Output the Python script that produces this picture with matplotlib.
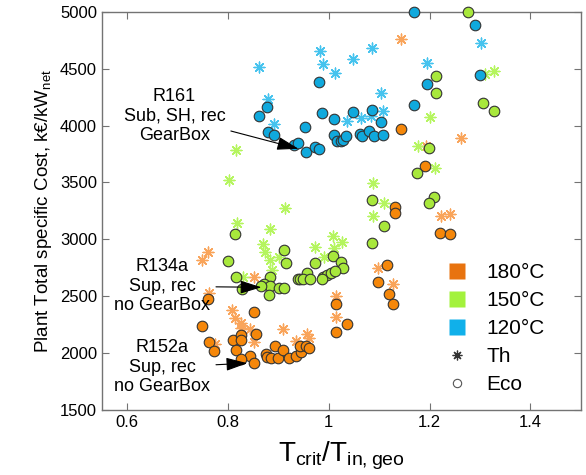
import numpy as np
import matplotlib
matplotlib.use('Agg')
from matplotlib import pyplot as plt
from matplotlib.lines import Line2D

plt.rcParams['font.family'] = ['Liberation Sans', 'DejaVu Sans']
plt.rcParams['mathtext.fontset'] = 'custom'
plt.rcParams['mathtext.rm'] = 'Liberation Sans'

# 120 C - Eco (circulos) y Th (asteriscos)
x120_eco = [0.861, 0.877, 0.879, 0.892, 0.981, 0.987, 0.953, 0.932, 0.939, 0.954, 0.972,
            0.981, 1.011, 1.011, 1.017, 1.024, 1.029, 1.035, 1.048, 1.062, 1.066, 1.080,
            1.086, 1.089, 1.103, 1.108, 1.170, 1.194, 1.169, 1.291, 1.301]
y120_eco = [4083, 4162, 3948, 3913, 4385, 4112, 3992, 3828, 3843, 3766, 3816,
            3795, 4054, 3916, 3863, 3869, 3872, 3910, 4124, 3925, 3907, 3954,
            4133, 3907, 4036, 3913, 4182, 4367, 5000, 4884, 4441]
x120_th = [0.862, 0.879, 0.892, 0.983, 0.988, 1.012, 1.049, 1.086, 1.194, 1.103, 1.108,
           1.037, 1.064, 1.084, 1.302]
y120_th = [4517, 4235, 4013, 4652, 4543, 4461, 4582, 4681, 4552, 4283, 4130,
           4042, 4065, 4086, 4723]

# 150 C
x150_eco = [1.276, 1.213, 1.212, 1.307, 1.327, 1.199, 1.175, 1.209, 1.199, 1.086, 1.109,
            1.086, 0.814, 0.800, 0.912, 0.916, 1.008, 1.024, 1.029, 0.973, 0.956, 0.938,
            0.943, 0.948, 0.963, 0.988, 0.997, 1.004, 1.012, 0.816, 0.884, 0.872, 0.884,
            0.865, 0.901, 0.912, 0.828, 0.882, 0.987]
y150_eco = [5000, 4435, 4285, 4197, 4127, 3804, 3579, 3373, 3320, 3344, 3118,
            2968, 3051, 2810, 2906, 2789, 2851, 2801, 2748, 2789, 2704, 2655,
            2651, 2651, 2651, 2669, 2684, 2704, 2719, 2666, 2669, 2607, 2593,
            2587, 2576, 2576, 2561, 2514, 2649]
x150_th = [1.311, 1.328, 1.200, 1.177, 1.210, 1.087, 1.110, 1.087, 1.027, 0.815, 0.802,
           0.913, 0.817, 0.884, 1.008, 0.869, 0.874, 0.973, 1.011, 0.884, 0.902, 0.990,
           0.887, 0.829]
y150_th = [4453, 4482, 4074, 3822, 3623, 3496, 3320, 3209, 2974, 3786, 3520,
           3276, 3141, 3095, 3027, 2963, 2892, 2933, 2924, 2822, 2848, 2842,
           2728, 2669]

# 180 C
x180_eco = [1.144, 1.191, 1.132, 1.132, 1.221, 1.240, 1.115, 1.097, 1.120, 1.128, 1.014,
            1.014, 1.036, 0.760, 0.851, 0.748, 0.762, 0.773, 0.810, 0.826, 0.826, 0.815,
            0.856, 0.844, 0.825, 0.852, 0.876, 0.877, 0.886, 0.899, 0.893, 0.909, 0.922,
            0.936, 0.945, 0.942, 0.955, 0.960]
y180_eco = [3969, 3646, 3280, 3232, 3056, 3047, 2774, 2622, 2519, 2435, 2435,
            2185, 2253, 2473, 2358, 2239, 2094, 2015, 2112, 2156, 2112, 2031,
            2171, 1977, 1945, 1912, 1995, 1965, 1956, 1960, 2065, 2030, 1956,
            1971, 2006, 2065, 2065, 2044]
x180_th = [1.144, 1.263, 1.192, 1.222, 1.241, 1.098, 1.128, 1.014, 1.014, 0.748, 0.760,
           0.851, 0.762, 0.809, 0.814, 0.826, 0.826, 0.843, 0.910, 0.852, 0.775, 0.936,
           0.956, 0.960]
y180_th = [4761, 3887, 3825, 3206, 3223, 2745, 2607, 2506, 2319, 2822, 2886,
           2671, 2528, 2380, 2305, 2266, 2217, 2209, 2209, 2094, 2081, 2106,
           2171, 2129]

# colores
c_eco = {'180': '#F5870A', '150': '#A8E83C', '120': '#10A9DD'}
c_th = {'180': '#F9A45A', '150': '#B5F55F', '120': '#45C3EE'}
c_leg = {'180': '#E8730F', '150': '#A3F23C', '120': '#10B0EA'}

fig = plt.figure(figsize=(5.86, 4.75), dpi=100)
ax = fig.add_axes([0.174, 0.137, 0.817, 0.838])

asterisco = (8, 2, 0)
datos = [('180', x180_th, y180_th, x180_eco, y180_eco),
         ('150', x150_th, y150_th, x150_eco, y150_eco),
         ('120', x120_th, y120_th, x120_eco, y120_eco)]
for t, xt, yt, xe, ye in datos:
    ax.scatter(xt, yt, s=60, marker=asterisco, color=c_th[t], linewidths=1.0,
               clip_on=False, zorder=2)
for t, xt, yt, xe, ye in datos:
    ax.scatter(xe, ye, s=58, marker='o', facecolor=c_eco[t], edgecolor='#333333',
               linewidths=0.8, clip_on=False, zorder=3)

# anotaciones
flecha = dict(arrowstyle='-|>,head_length=0.55,head_width=0.17', color='k', lw=0.8,
              mutation_scale=24)
ax.annotate('R161\nSub, SH, rec\nGearBox', xy=(0.945, 3790), xytext=(0.694, 4083),
            ha='center', va='center', fontsize=13, arrowprops=flecha,
            zorder=5)
ax.annotate('R134a\nSup, rec\nno GearBox', xy=(0.872, 2578), xytext=(0.670, 2587),
            ha='center', va='center', fontsize=13, arrowprops=flecha,
            zorder=5)
ax.annotate('R152a\nSup, rec\nno GearBox', xy=(0.844, 1912), xytext=(0.670, 1874),
            ha='center', va='center', fontsize=13, arrowprops=flecha,
            zorder=5)

# leyenda
handles = [Line2D([], [], ls='none', marker='s', ms=12, mfc=c_leg['180'], mec='none'),
           Line2D([], [], ls='none', marker='s', ms=12, mfc=c_leg['150'], mec='none'),
           Line2D([], [], ls='none', marker='s', ms=12, mfc=c_leg['120'], mec='none'),
           Line2D([], [], ls='none', marker=asterisco, ms=7, color='#333333', mew=0.9),
           Line2D([], [], ls='none', marker='o', ms=6, mfc='white', mec='#555555', mew=0.8)]
ax.legend(handles, ['180°C', '150°C', '120°C', 'Th', 'Eco'], loc='upper left',
          bbox_to_anchor=(0.72, 0.368), frameon=False, fontsize=15,
          handlelength=1.0, handletextpad=0.9, labelspacing=0.43, borderpad=0,
          borderaxespad=0)

ax.set_xlim(0.55, 1.5)
ax.set_ylim(1500, 5000)
ax.set_xticks([0.6, 0.8, 1.0, 1.2, 1.4])
ax.set_xticklabels(['0.6', '0.8', '1', '1.2', '1.4'])
ax.set_yticks(np.arange(1500, 5001, 500))
ax.tick_params(direction='in', top=True, right=True, length=5, width=0.8,
               color='0.45', labelsize=12)
for sp in ax.spines.values():
    sp.set_color('0.45')
    sp.set_linewidth(1.0)

ax.set_ylabel('Plant Total specific Cost, k€/kW$_{\\mathregular{net}}$', fontsize=13.5)
ax.set_xlabel(r'$\mathregular{T_{crit}/T_{in,geo}}$', fontsize=20, labelpad=7)

plt.savefig('out.png', dpi=100)
